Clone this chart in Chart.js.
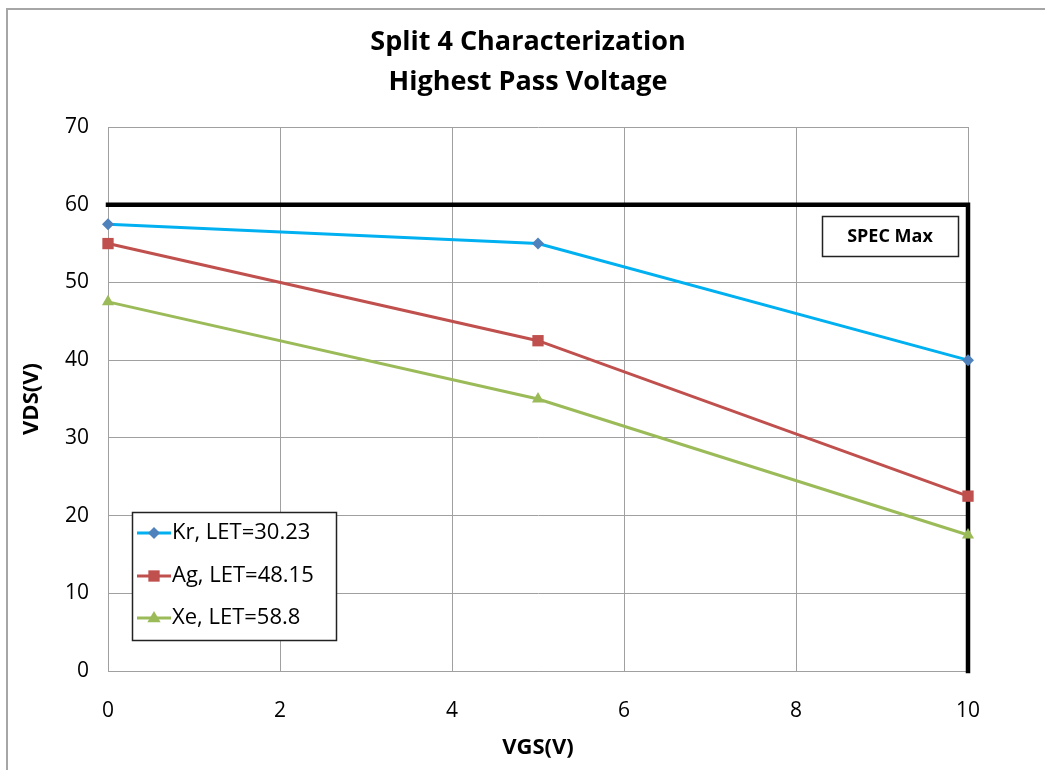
<!DOCTYPE html>
<html>
<head>
<meta charset="utf-8">
<script src="https://cdn.jsdelivr.net/npm/chart.js@4.4.0/dist/chart.umd.min.js"></script>
<style>
  html, body { margin:0; padding:0; background:#fff; }
  #wrap { position:relative; width:1045px; height:770px; }
</style>
</head>
<body>
<div id="wrap"><canvas id="vdsChart" width="1045" height="770"></canvas></div>
<script>
// ---- data ----
const titleLines = ["Split 4 Characterization", "Highest Pass Voltage"];
const xTitle = "VGS(V)";
const yTitle = "VDS(V)";

const vgs   = [0, 5, 10];
const krVds = [57.5, 55, 40];
const agVds = [55, 42.5, 22.5];
const xeVds = [47.5, 35, 17.5];

const seriesNames = ["Kr, LET=30.23", "Ag, LET=48.15", "Xe, LET=58.8"];

// spec limit outline
const specX = [0, 10, 10];
const specY = [60, 60, 0];
const specLabel = "SPEC Max";

const FONT = "'Open Sans', 'Liberation Sans', sans-serif";

function pts(xs, ys){
    return xs.map((x,i)=>({x:x, y:ys[i]}));
}

// ---- custom drawing: frame, title, axis titles, spec label, legend ----
const decorPlugin = {
    id:'decor',
    beforeDraw(chart){
        const c = chart.ctx;
        c.save();
        c.fillStyle = '#fff';
        c.fillRect(0,0,chart.width,chart.height);
        c.strokeStyle = '#a6a6a6';
        c.lineWidth = 2;
        c.beginPath();
        c.moveTo(7, chart.height);
        c.lineTo(7, 9);
        c.lineTo(chart.width, 9);
        c.stroke();
        c.restore();
    },
    afterDatasetsDraw(chart){
        const c = chart.ctx;
        const a = chart.chartArea;
        const cx = (a.left + a.right)/2 - 10;

        c.save();
        c.fillStyle = '#000';
        c.textAlign = 'center';
        c.textBaseline = 'middle';
        c.font = "bold 27px " + FONT;
        c.fillText(titleLines[0], cx, 42);
        c.fillText(titleLines[1], cx, 82);

        c.font = "bold 22px " + FONT;
        c.fillText(xTitle, (a.left + a.right)/2, 748);
        c.save();
        c.translate(32, (a.top + a.bottom)/2);
        c.rotate(-Math.PI/2);
        c.fillText(yTitle, 0, 0);
        c.restore();

        // spec label box
        c.fillStyle = '#fff';
        c.fillRect(822.5, 216.5, 136, 40);
        c.strokeStyle = '#222';
        c.lineWidth = 1.5;
        c.strokeRect(822.5, 216.5, 136, 40);
        c.fillStyle = '#000';
        c.font = "bold 18px " + FONT;
        c.fillText(specLabel, 890, 237);

        // legend box
        const lx = 132.5, ly = 512.5, lw = 204, lh = 128;
        c.fillStyle = '#fff';
        c.fillRect(lx, ly, lw, lh);
        c.strokeStyle = '#222';
        c.lineWidth = 1.5;
        c.strokeRect(lx, ly, lw, lh);

        c.textAlign = 'left';
        c.font = "22px " + FONT;
        const rows = [533, 576, 618];
        chart.data.datasets.forEach((ds, i)=>{
            if (i >= seriesNames.length) return;
            const y = rows[i];
            c.strokeStyle = ds.borderColor;
            c.lineWidth = 3;
            c.beginPath();
            c.moveTo(137, y);
            c.lineTo(171, y);
            c.stroke();
            drawMarker(c, ds.pointStyle, 154, y, ds.pointRadius, ds.pointBackgroundColor);
            c.fillStyle = '#000';
            c.fillText(ds.label, 172, y);
        });
        c.restore();
    }
};

function drawMarker(c, style, x, y, r, color){
    c.fillStyle = color;
    c.beginPath();
    if (style === 'rectRot'){
        c.moveTo(x, y - r); c.lineTo(x + r, y); c.lineTo(x, y + r); c.lineTo(x - r, y);
    } else if (style === 'rect'){
        const s = r * Math.SQRT1_2;
        c.rect(x - s, y - s, 2*s, 2*s);
    } else {
        c.moveTo(x, y - r); c.lineTo(x + r*0.95, y + r*0.6); c.lineTo(x - r*0.95, y + r*0.6);
    }
    c.closePath();
    c.fill();
}

// ---- chart ----
const ctx = document.getElementById("vdsChart").getContext("2d");

const vdsChart = new Chart(ctx, {
    type:'scatter',
    data:{
        datasets:[
            {
                label:seriesNames[0],
                data:pts(vgs, krVds),
                showLine:true,
                borderColor:'#00b0f0',
                borderWidth:3,
                pointStyle:'rectRot',
                pointRadius:6,
                pointBackgroundColor:'#4f81bd',
                pointBorderWidth:0,
                clip:false
            },
            {
                label:seriesNames[1],
                data:pts(vgs, agVds),
                showLine:true,
                borderColor:'#c0504d',
                borderWidth:3,
                pointStyle:'rect',
                pointRadius:8,
                pointBackgroundColor:'#c0504d',
                pointBorderWidth:0,
                clip:false
            },
            {
                label:seriesNames[2],
                data:pts(vgs, xeVds),
                showLine:true,
                borderColor:'#9bbb59',
                borderWidth:3,
                pointStyle:'triangle',
                pointRadius:7,
                pointBackgroundColor:'#9bbb59',
                pointBorderWidth:0,
                clip:false
            },
            {
                label:specLabel,
                data:pts(specX, specY),
                showLine:true,
                borderColor:'#000',
                borderWidth:4.5,
                pointRadius:0,
                borderCapStyle:'square',
                clip:false
            }
        ]
    },
    options:{
        responsive:false,
        animation:false,
        events:[],
        layout:{
            padding:{ left:0, top:127, right:77, bottom:0 }
        },
        plugins:{
            legend:{ display:false },
            title:{ display:false },
            tooltip:{ enabled:false }
        },
        scales:{
            x:{
                type:'linear',
                min:0, max:10,
                ticks:{
                    stepSize:2,
                    padding:27,
                    color:'#000',
                    font:{ family:FONT, size:21 }
                },
                grid:{ color:'#a0a0a0', lineWidth:1, drawTicks:false },
                border:{ color:'#a0a0a0' },
                afterFit(scale){ scale.height = 99; }
            },
            y:{
                min:0, max:70,
                ticks:{
                    stepSize:10,
                    padding:19,
                    color:'#000',
                    font:{ family:FONT, size:21 }
                },
                grid:{ color:'#a0a0a0', lineWidth:1, drawTicks:false },
                border:{ color:'#a0a0a0' },
                afterFit(scale){ scale.width = 108; }
            }
        }
    },
    plugins:[decorPlugin]
});
</script>
</body>
</html>
